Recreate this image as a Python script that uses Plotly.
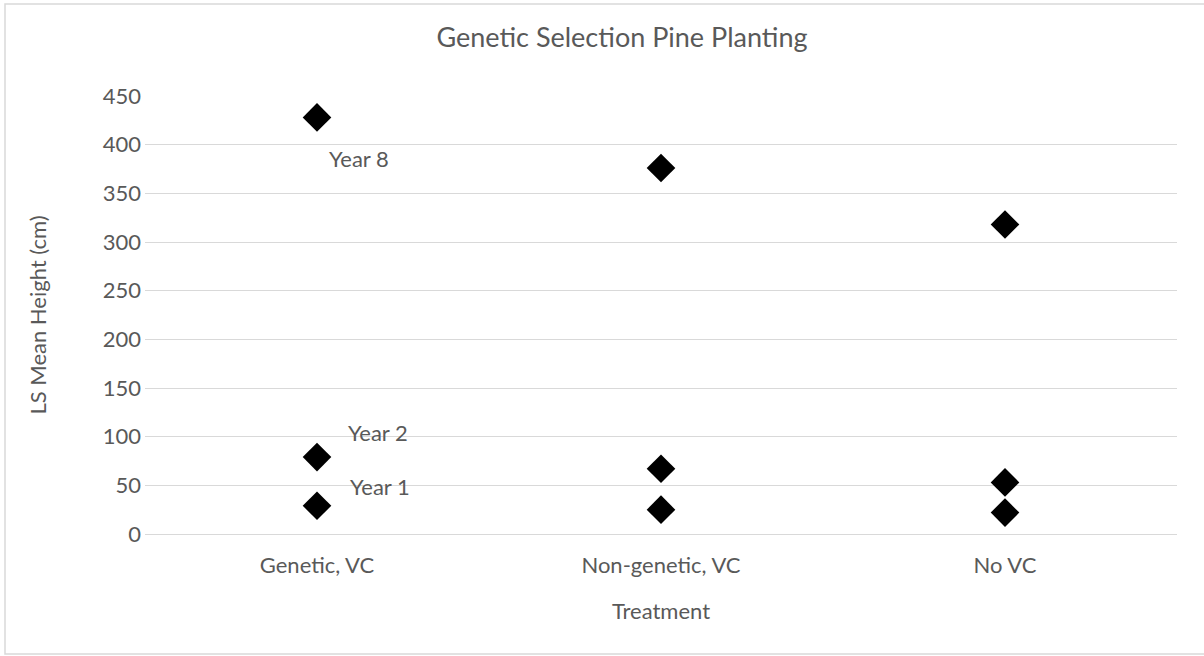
import plotly.graph_objects as go

categories = ["Genetic, VC", "Non-genetic, VC", "No VC"]
year1 = [29, 25, 22]
year2 = [79, 67, 53]
year8 = [428, 376, 318]
series_names = ["Year 1", "Year 2", "Year 8"]
y_ticks = [0, 50, 100, 150, 200, 250, 300, 350, 400, 450]

FONT = "Lato, Calibri, Carlito, sans-serif"
GRAY = "#595959"
TXT = 22

fig = go.Figure()
for name, vals in zip(series_names, [year1, year2, year8]):
    fig.add_trace(go.Scatter(
        x=categories, y=vals, mode="markers", name=name,
        marker=dict(symbol="diamond", size=22, color="black"),
        showlegend=False,
    ))

# data labels on the first category
label_offsets = {"Year 8": (42, -41), "Year 2": (61, 25), "Year 1": (63, 19)}
for name, vals in zip(series_names, [year1, year2, year8]):
    dx, dy = label_offsets[name]
    fig.add_annotation(x=categories[0], y=vals[0], text=name, showarrow=False,
                       xshift=dx, yshift=dy, font=dict(family=FONT, size=TXT, color=GRAY))

fig.update_layout(
    width=1204, height=656,
    margin=dict(l=145, r=27, t=96, b=122),
    paper_bgcolor="white", plot_bgcolor="white",
    font=dict(family=FONT, color=GRAY, size=TXT),
    title=dict(text="Genetic Selection Pine Planting", x=622 / 1204, xanchor="center",
               y=1 - 38 / 656, yanchor="middle", font=dict(family=FONT, size=27, color=GRAY)),
    xaxis=dict(type="category", range=[-0.5, 2.5], showgrid=False, showline=True,
               linecolor="#d9d9d9", linewidth=1, ticks="", tickfont=dict(size=TXT, color=GRAY),
               ticklabelstandoff=12,
               title=dict(text="Treatment", font=dict(size=TXT, color=GRAY), standoff=26),
               zeroline=False),
    yaxis=dict(range=[0, 450], tickvals=y_ticks, showgrid=True, gridcolor="#d9d9d9", gridwidth=1,
               zeroline=False, showline=False, ticks="", tickfont=dict(size=TXT, color=GRAY),
               ticklabelstandoff=3,
               title=dict(text="LS Mean Height (cm)", font=dict(size=TXT, color=GRAY), standoff=50)),
    shapes=[dict(type="rect", xref="paper", yref="paper",
                 x0=(5 - 145) / 1032, x1=(1300 - 145) / 1032,
                 y0=(534 - 654) / 438, y1=(534 - 4) / 438,
                 line=dict(color="#d9d9d9", width=1.5), fillcolor="rgba(0,0,0,0)", layer="below")],
)

fig.write_html("out.html", config={"displayModeBar": False},
               post_script="document.body.style.margin='0px';")
